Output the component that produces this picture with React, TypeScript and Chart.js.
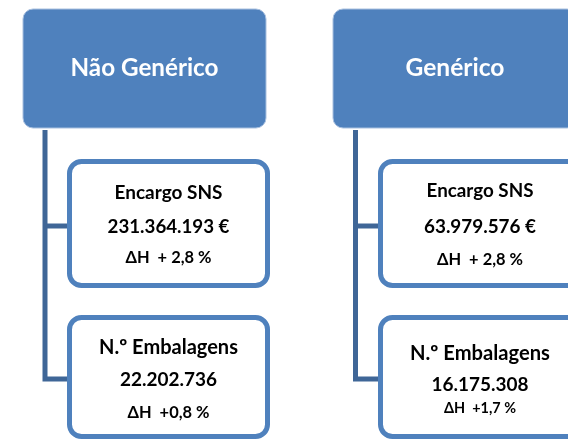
import React, { useEffect, useRef } from "react";
import { Chart, registerables } from "chart.js";

Chart.register(...registerables);

// ---- data ----
const groups = ["Não Genérico", "Genérico"];
const metricLabels = ["Encargo SNS", "N.º Embalagens"];
const encargoSNS = [231364193, 63979576];
const encargoDeltaH = [2.8, 2.8];
const embalagens = [22202736, 16175308];
const embalagensDeltaH = [0.8, 1.7];

// ---- layout (in scale units = page pixels) ----
const W = 568;
const H = 439;
const columns = [
  {
    header: [23, 9, 266, 128], spine: 45, box1: [67, 159, 270, 288], box2: [67, 315, 270, 439], cx: 168.5, hcx: 144.5,
    // [centre y, target text width] for each text line
    headerText: [68, 148],
    box1Text: [[193, 108], [227, 122], [258, 86]],
    box2Text: [[348, 139], [380, 97], [413, 82]],
  },
  {
    header: [333, 9, 577, 128], spine: 355.5, box1: [378, 159, 582, 288], box2: [378, 315, 582, 439], cx: 480, hcx: 455,
    headerText: [68, 99],
    box1Text: [[191, 107], [227, 112], [260, 86]],
    box2Text: [[353, 140], [385, 97], [408, 72]],
  },
];

const fmtInt = (n: number) => String(n).replace(/\B(?=(\d{3})+(?!\d))/g, ".");
const fmtPct = (n: number) => n.toFixed(1).replace(".", ",");

const FONT = "Lato, 'Open Sans', sans-serif";

function roundRect(ctx: CanvasRenderingContext2D, x0: number, y0: number, x1: number, y1: number, r: number) {
  ctx.beginPath();
  ctx.moveTo(x0 + r, y0);
  ctx.lineTo(x1 - r, y0);
  ctx.arcTo(x1, y0, x1, y0 + r, r);
  ctx.lineTo(x1, y1 - r);
  ctx.arcTo(x1, y1, x1 - r, y1, r);
  ctx.lineTo(x0 + r, y1);
  ctx.arcTo(x0, y1, x0, y1 - r, r);
  ctx.lineTo(x0, y0 + r);
  ctx.arcTo(x0, y0, x0 + r, y0, r);
  ctx.closePath();
}

function fitText(ctx: CanvasRenderingContext2D, text: string, x: number, y: number, width: number) {
  ctx.font = `bold 20px ${FONT}`;
  const m = ctx.measureText(text).width;
  const size = (20 * width) / m;
  ctx.font = `bold ${size.toFixed(2)}px ${FONT}`;
  ctx.fillText(text, x, y);
}

const diagramPlugin = {
  id: "diagram",
  afterDraw(chart: any) {
    const ctx: CanvasRenderingContext2D = chart.ctx;
    const xs = chart.scales.x;
    const ys = chart.scales.y;
    const px = (v: number) => xs.getPixelForValue(v);
    const py = (v: number) => ys.getPixelForValue(v);
    const sw = (w: number) => Math.abs(xs.getPixelForValue(w) - xs.getPixelForValue(0));
    ctx.save();
    columns.forEach((c, i) => {
      const b1mid = 226;
      const b2mid = 379;
      // connectors
      ctx.strokeStyle = "#3F6697";
      ctx.lineWidth = 5;
      ctx.lineJoin = "miter";
      ctx.beginPath();
      ctx.moveTo(px(c.spine), py(c.header[3] + 2));
      ctx.lineTo(px(c.spine), py(b2mid));
      ctx.lineTo(px(c.box2[0]), py(b2mid));
      ctx.stroke();
      ctx.beginPath();
      ctx.moveTo(px(c.spine), py(b1mid));
      ctx.lineTo(px(c.box1[0]), py(b1mid));
      ctx.stroke();

      // header
      roundRect(ctx, px(c.header[0]), py(c.header[1]), px(c.header[2]), py(c.header[3]), 10);
      ctx.fillStyle = "#4F81BD";
      ctx.fill();
      ctx.lineWidth = 1;
      ctx.strokeStyle = "#A9C0DF";
      ctx.stroke();
      ctx.fillStyle = "#FFFFFF";
      ctx.textAlign = "center";
      ctx.textBaseline = "middle";
      fitText(ctx, groups[i], px(c.hcx), py(c.headerText[0]), sw(c.headerText[1]));

      // boxes
      [c.box1, c.box2].forEach((b) => {
        roundRect(ctx, px(b[0]) + 2.5, py(b[1]) + 2.5, px(b[2]) - 2.5, py(b[3]) - 2.5, 12);
        ctx.fillStyle = "#FFFFFF";
        ctx.fill();
        ctx.lineWidth = 5;
        ctx.strokeStyle = "#4F81BD";
        ctx.stroke();
      });

      ctx.fillStyle = "#000000";
      const lines1 = [
        metricLabels[0],
        fmtInt(encargoSNS[i]) + " €",
        "ΔH  + " + fmtPct(encargoDeltaH[i]) + " %",
      ];
      const lines2 = [
        metricLabels[1],
        fmtInt(embalagens[i]),
        "ΔH  +" + fmtPct(embalagensDeltaH[i]) + " %",
      ];
      lines1.forEach((t, k) => fitText(ctx, t, px(c.cx), py(c.box1Text[k][0]), sw(c.box1Text[k][1])));
      lines2.forEach((t, k) => fitText(ctx, t, px(c.cx), py(c.box2Text[k][0]), sw(c.box2Text[k][1])));
    });
    ctx.restore();
  },
};

export default function App() {
  const ref = useRef<HTMLCanvasElement>(null);
  useEffect(() => {
    if (!ref.current) return;
    const chart = new Chart(ref.current, {
      type: "scatter",
      data: { datasets: [{ data: [], pointRadius: 0 }] },
      options: {
        responsive: false,
        animation: false,
        layout: { padding: 0 },
        plugins: { legend: { display: false }, tooltip: { enabled: false } },
        scales: {
          x: { type: "linear", min: 0, max: W, display: false },
          y: { type: "linear", min: 0, max: H, reverse: true, display: false },
        },
      },
      plugins: [diagramPlugin],
    });
    return () => chart.destroy();
  }, []);
  return (
    <div style={{ position: "fixed", left: 0, top: 0, width: W, height: H, background: "#fff" }}>
      <canvas ref={ref} width={W} height={H} style={{ display: "block" }} />
    </div>
  );
}
